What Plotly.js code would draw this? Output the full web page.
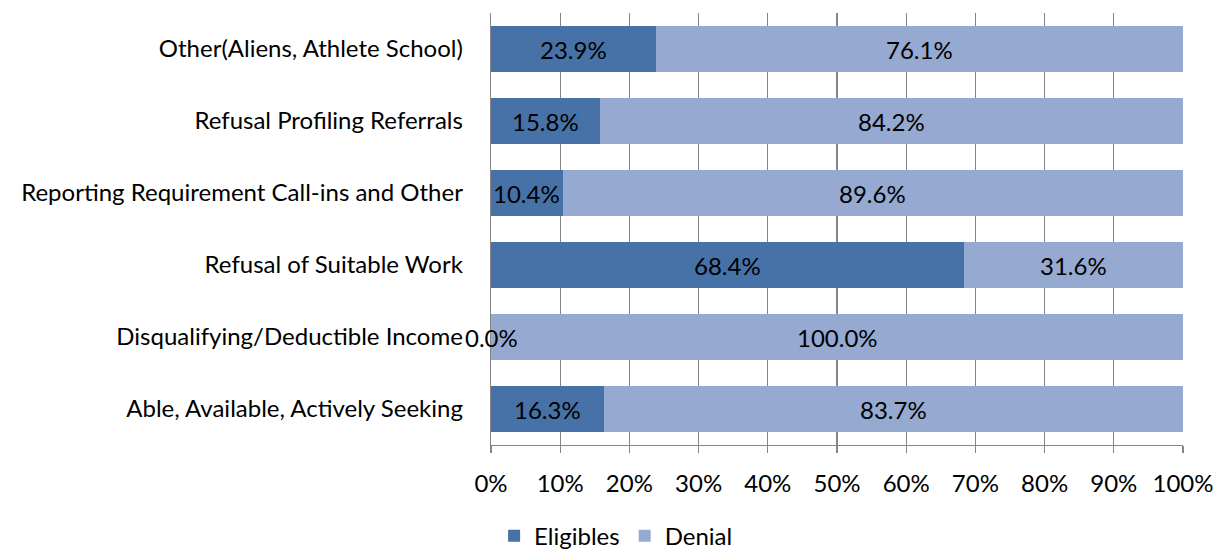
<!DOCTYPE html>
<html><head><meta charset="utf-8">
<script src="https://cdn.plot.ly/plotly-3.0.1.min.js"></script>
<style>body{margin:0;background:#fff}#c{width:1220px;height:550px}</style>
</head><body><div id="c"></div>
<script>
const categories = ["Able, Available, Actively Seeking","Disqualifying/Deductible Income","Refusal of Suitable Work","Reporting Requirement Call-ins and Other","Refusal Profiling Referrals","Other(Aliens, Athlete School)"];
const eligibles = [16.3, 0.0, 68.4, 10.4, 15.8, 23.9];
const denial = [83.7, 100.0, 31.6, 89.6, 84.2, 76.1];
const tickVals = [0,10,20,30,40,50,60,70,80,90,100];
const tickText = ["0%","10%","20%","30%","40%","50%","60%","70%","80%","90%","100%"];

const font = {family:"Lato, Open Sans, sans-serif", size:24, color:"#000"};
const traces = [
 {type:"bar", orientation:"h", name:"Eligibles", y:categories, x:eligibles, marker:{color:"#4672A7"}, width:0.64, hoverinfo:"none"},
 {type:"bar", orientation:"h", name:"Denial", y:categories, x:denial, marker:{color:"#95A9D1"}, width:0.64, hoverinfo:"none"}
];
const annotations = [];
categories.forEach((c,i)=>{
  annotations.push({x:eligibles[i]/2, y:c, xref:"x", yref:"y", text:eligibles[i].toFixed(1)+"%", showarrow:false, font:font});
  annotations.push({x:eligibles[i]+denial[i]/2, y:c, xref:"x", yref:"y", text:denial[i].toFixed(1)+"%", showarrow:false, font:font});
});
const layout = {
 width:1220, height:550, barmode:"stack",
 margin:{l:491, r:37, t:13, b:105, autoexpand:false},
 paper_bgcolor:"#fff", plot_bgcolor:"#fff", font:font,
 xaxis:{range:[0,100], tickvals:tickVals, ticktext:tickText, showgrid:true, gridcolor:"#868686", gridwidth:1.3,
   ticks:"outside", ticklen:7, tickcolor:"#868686", tickwidth:1.3, showline:true, linecolor:"#868686", linewidth:1.3,
   zeroline:false, ticklabelstandoff:10, fixedrange:true, tickfont:font, automargin:false},
 yaxis:{type:"category", showgrid:false, showline:true, linecolor:"#868686", linewidth:1.3, ticks:"", ticklabelstandoff:22, tickfont:font, fixedrange:true, automargin:false},
 legend:{orientation:"h", x:0.505, xref:"container", xanchor:"center", y:0.025, yref:"container", yanchor:"middle", font:font, traceorder:"normal", itemwidth:30},
 showlegend:true, annotations:annotations
};
Plotly.newPlot("c", traces, layout, {staticPlot:true, displayModeBar:false});
</script></body></html>
